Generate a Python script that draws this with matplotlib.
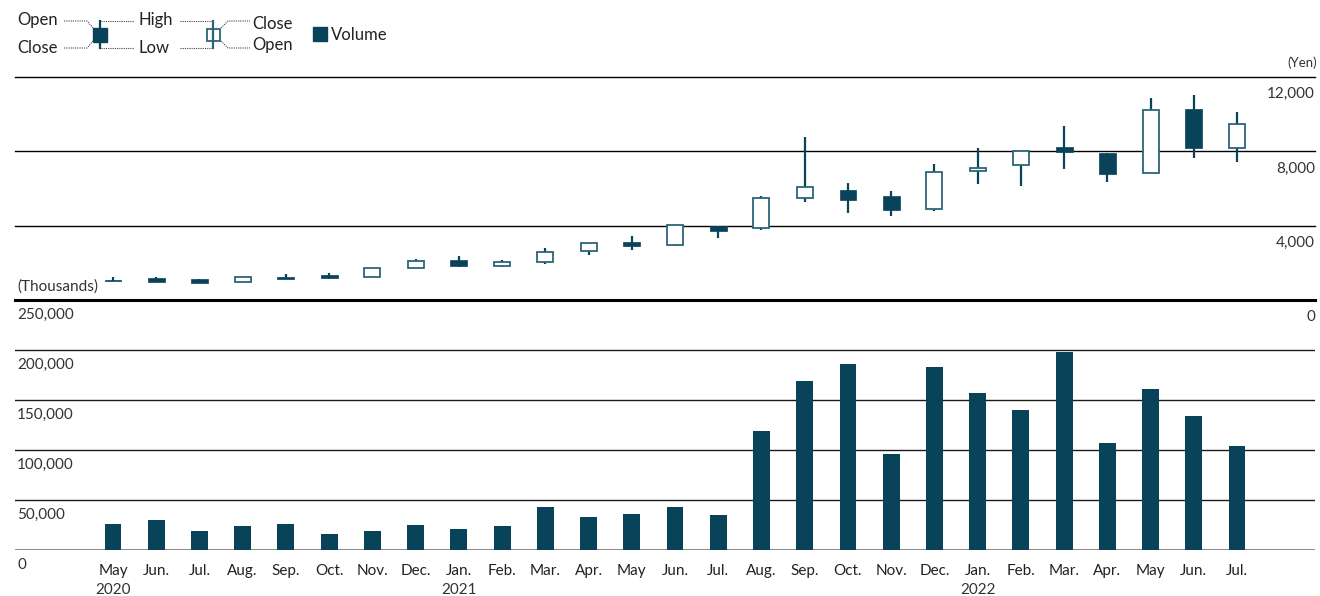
import numpy as np
import matplotlib.pyplot as plt

plt.rcParams['font.family'] = ['Lato', 'DejaVu Sans']

# monthly share price (yen) and trading volume (thousands), May 2020 - Jul 2022
months = ['May', 'Jun.', 'Jul.', 'Aug.', 'Sep.', 'Oct.', 'Nov.', 'Dec.',
          'Jan.', 'Feb.', 'Mar.', 'Apr.', 'May', 'Jun.', 'Jul.', 'Aug.',
          'Sep.', 'Oct.', 'Nov.', 'Dec.', 'Jan.', 'Feb.', 'Mar.', 'Apr.',
          'May', 'Jun.', 'Jul.']
year_pos = [0, 8, 20]
year_labels = ['2020', '2021', '2022']

opens = [1100, 1200, 1120, 960, 1240, 1330, 1260, 1710, 2160, 1840, 2020, 2630,
         3130, 2940, 3990, 3880, 5500, 5930, 5600, 4920, 6920, 7250, 8220, 7910,
         6810, 10300, 8190]
highs = [1260, 1260, 1150, 1240, 1420, 1440, 1710, 2200, 2380, 2140, 2790, 3060,
         3460, 4020, 3990, 5570, 8750, 6320, 5890, 7300, 8170, 8030, 9390, 7910,
         10850, 11010, 10120]
lows = [1000, 970, 900, 950, 1150, 1140, 1260, 1700, 1800, 1800, 1930, 2410,
        2670, 2880, 3320, 3780, 5260, 4670, 4500, 4770, 6240, 6160, 7050, 6360,
        6810, 7620, 7430]
closes = [1040, 980, 900, 1220, 1150, 1180, 1710, 2120, 1830, 2050, 2560, 3060,
          2920, 4010, 3700, 5510, 6070, 5400, 4830, 6900, 7080, 8020, 7970, 6800,
          10200, 8190, 9480]
volume = [26000, 30000, 19000, 24000, 26000, 16300, 19000, 25000, 21000, 24000,
          43000, 33000, 36000, 43000, 35000, 119300, 169300, 186300, 96300,
          183300, 157300, 140300, 198300, 107300, 161300, 134300, 104300]

price_ticks = [0, 4000, 8000, 12000]
vol_ticks = [0, 50000, 100000, 150000, 200000, 250000]

teal = '#08435a'
edge = '#2c6478'
W, H = 1320, 596
fs = 11

fig = plt.figure(figsize=(W / 100, H / 100), dpi=100)
x = np.arange(len(months))
xl = (-2.267, 27.804)
left, right = 15 / W, 1315 / W

# price panel
axp = fig.add_axes([left, 1 - 300 / H, right - left, 223 / H])
axp.set_xlim(*xl)
axp.set_ylim(0, 12000)
for v in price_ticks:
    axp.axhline(v, color='black', lw=2.2 if v == 0 else 1.0, zorder=1, clip_on=False)
    axp.annotate(f'{v:,}', xy=(1, v), xycoords=('axes fraction', 'data'),
                 xytext=(0, -12.5), textcoords='offset points',
                 ha='right', va='center', fontsize=fs, color='#333333')
op, hi, lo, cl = map(np.array, (opens, highs, lows, closes))
up = cl >= op
axp.vlines(x, lo, hi, color=teal, lw=1.6, zorder=2)
body_lo = np.minimum(op, cl)
body_h = np.maximum(np.abs(cl - op), 60)
axp.bar(x[up], body_h[up], 0.37, bottom=body_lo[up], facecolor='white',
        edgecolor=edge, lw=1.3, zorder=3)
axp.bar(x[~up], body_h[~up], 0.39, bottom=body_lo[~up], facecolor=teal,
        edgecolor=teal, lw=0.5, zorder=3)
axp.annotate('(Yen)', xy=(1, 12000), xycoords=('axes fraction', 'data'),
             xytext=(1.5, 10), textcoords='offset points',
             ha='right', va='center', fontsize=9.5, color='#333333')
axp.annotate('(Thousands)', xy=(0, 0), xycoords=('axes fraction', 'data'),
             xytext=(1.5, 10), textcoords='offset points',
             ha='left', va='center', fontsize=fs, color='#333333')
axp.axis('off')

# volume panel
axv = fig.add_axes([left, 1 - 550 / H, right - left, 250 / H])
axv.set_xlim(*xl)
axv.set_ylim(0, 250000)
for v in vol_ticks:
    if v == 0:
        axv.axhline(v, color='#7f7f7f', lw=2, zorder=1)
    elif v < 250000:
        axv.axhline(v, color='#1a1a1a', lw=1.0, zorder=1)
    axv.annotate(f'{v:,}', xy=(0, v), xycoords=('axes fraction', 'data'),
                 xytext=(1.5, -10.5), textcoords='offset points',
                 ha='left', va='center', fontsize=fs, color='#333333')
axv.bar(x, volume, 0.39, color=teal, zorder=2)
for i, m in enumerate(months):
    axv.annotate(m, xy=(i, 0), xycoords='data', xytext=(0, -15),
                 textcoords='offset points', ha='center', va='center',
                 fontsize=fs, color='#222222')
for i, yl in zip(year_pos, year_labels):
    axv.annotate(yl, xy=(i, 0), xycoords='data', xytext=(0, -28.5),
                 textcoords='offset points', ha='center', va='center',
                 fontsize=fs, color='#333333')
axv.axis('off')

# legend drawn in pixel coordinates
lg = fig.add_axes([0, 0, 1, 1], zorder=-1)
lg.set_xlim(0, W)
lg.set_ylim(H, 0)
lg.axis('off')
dot = dict(color='#444444', lw=0.8, ls=(0, (1, 1)))
txt = dict(fontsize=12, color='#222222', va='center')
lg.text(17, 20, 'Open', ha='left', **txt)
lg.text(17, 48, 'Close', ha='left', **txt)
lg.plot([64, 87, 93], [21, 21, 28], **dot)
lg.plot([64, 87, 93], [48, 48, 41], **dot)
lg.plot([100, 100], [21, 48], color=teal, lw=1.6)
lg.add_patch(plt.Rectangle((93, 27.5), 14, 14, facecolor=teal, edgecolor=teal))
lg.plot([101, 134], [21, 21], **dot)
lg.plot([101, 134], [48, 48], **dot)
lg.text(138, 20, 'High', ha='left', **txt)
lg.text(138, 48, 'Low', ha='left', **txt)
lg.plot([180, 213], [21, 21], **dot)
lg.plot([180, 213], [48, 48], **dot)
lg.plot([213, 213], [21, 48], color=edge, lw=1.6)
lg.add_patch(plt.Rectangle((207, 28.5), 13, 12, facecolor='white', edgecolor=edge, lw=1.3))
lg.plot([221, 228, 250], [28, 21, 21], **dot)
lg.plot([221, 228, 250], [41, 48, 48], **dot)
lg.text(252, 24, 'Close', ha='left', **txt)
lg.text(252, 45, 'Open', ha='left', **txt)
lg.add_patch(plt.Rectangle((313, 27), 14, 14, facecolor=teal, edgecolor=teal))
lg.text(331, 35, 'Volume', ha='left', **txt)

fig.savefig('out.png', dpi=100, facecolor='white')
